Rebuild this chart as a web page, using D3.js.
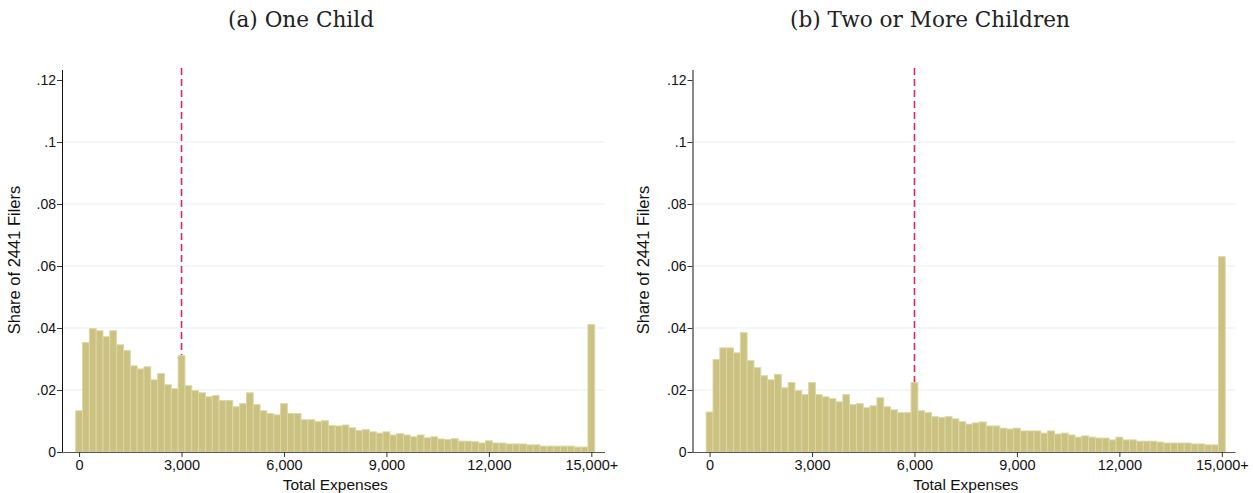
<!DOCTYPE html>
<html>
<head>
<meta charset="utf-8">
<script src="https://cdn.jsdelivr.net/npm/d3@7"></script>
<style>
  html, body { margin: 0; padding: 0; background: #fff; }
  svg { display: block; }
</style>
</head>
<body>
<svg id="chart" width="1254" height="493"></svg>
<script>
// Bin midpoints of total child-care expenses (last bin is 15,000 and above)
const expenseBins = d3.range(0, 15001, 200);

// Share of Form 2441 filers in each expense bin
const oneChild = [
  0.0133, 0.0353, 0.0398, 0.0391, 0.0372, 0.0391, 0.0346, 0.0327, 0.0278, 0.0268,
  0.0275, 0.0233, 0.0253, 0.0217, 0.0204, 0.0311, 0.0214, 0.0198, 0.0191, 0.0178,
  0.0182, 0.0166, 0.0166, 0.0146, 0.0156, 0.0191, 0.0153, 0.0133, 0.0124, 0.0120,
  0.0156, 0.0124, 0.0124, 0.0104, 0.0104, 0.0098, 0.0101, 0.0085, 0.0084, 0.0087,
  0.0078, 0.0069, 0.0072, 0.0065, 0.0061, 0.0065, 0.0055, 0.0059, 0.0055, 0.0049,
  0.0055, 0.0046, 0.0049, 0.0042, 0.0040, 0.0043, 0.0035, 0.0035, 0.0033, 0.0029,
  0.0036, 0.0029, 0.0029, 0.0026, 0.0026, 0.0026, 0.0023, 0.0023, 0.0019, 0.0019,
  0.0019, 0.0019, 0.0019, 0.0016, 0.0016, 0.0411
];
const twoPlusChildren = [
  0.0129, 0.0298, 0.0336, 0.0336, 0.0320, 0.0385, 0.0295, 0.0272, 0.0246, 0.0233,
  0.0250, 0.0207, 0.0224, 0.0198, 0.0185, 0.0224, 0.0185, 0.0178, 0.0172, 0.0162,
  0.0185, 0.0153, 0.0156, 0.0143, 0.0149, 0.0175, 0.0146, 0.0136, 0.0127, 0.0127,
  0.0224, 0.0133, 0.0127, 0.0114, 0.0111, 0.0114, 0.0107, 0.0098, 0.0090, 0.0094,
  0.0097, 0.0084, 0.0084, 0.0077, 0.0074, 0.0077, 0.0068, 0.0068, 0.0068, 0.0061,
  0.0068, 0.0058, 0.0061, 0.0055, 0.0048, 0.0052, 0.0048, 0.0045, 0.0045, 0.0039,
  0.0048, 0.0039, 0.0039, 0.0035, 0.0035, 0.0035, 0.0032, 0.0029, 0.0029, 0.0029,
  0.0029, 0.0026, 0.0026, 0.0023, 0.0023, 0.0630
];

// Credit expense limits marked by the dashed lines
const expenseLimits = [3000, 6000];
const panelTitles = ["(a) One Child", "(b) Two or More Children"];

const xTickValues = [0, 3000, 6000, 9000, 12000, 15000];
const xTickLabels = ["0", "3,000", "6,000", "9,000", "12,000", "15,000+"];
const yTickValues = [0, 0.02, 0.04, 0.06, 0.08, 0.10, 0.12];
const yTickLabels = ["0", ".02", ".04", ".06", ".08", ".1", ".12"];

const binWidth = 200;
const svg = d3.select("#chart");

const panels = [
  { title: panelTitles[0], values: oneChild, limit: expenseLimits[0], left: 62, right: 605, titleX: 301, ylabX: 14 },
  { title: panelTitles[1], values: twoPlusChildren, limit: expenseLimits[1], left: 692.5, right: 1235.5, titleX: 930, ylabX: 643 }
];

const plotTop = 68, plotBottom = 452;
const y = d3.scaleLinear().domain([0, 0.12387]).range([plotBottom, plotTop]);

const sansFont = "'Liberation Sans', Arial, sans-serif";
const serifFont = "'DejaVu Serif', 'Liberation Serif', serif";

panels.forEach(p => {
  const g = svg.append("g");
  const x = d3.scaleLinear().domain([-500, 15400]).range([p.left, p.right]);

  // panel title
  g.append("text")
    .attr("x", p.titleX).attr("y", 27)
    .attr("text-anchor", "middle")
    .style("font-family", serifFont)
    .style("font-size", "21.6px")
    .style("font-weight", "300")
    .attr("fill", "#222")
    .text(p.title);

  // horizontal grid
  g.append("g").selectAll("line")
    .data(yTickValues.filter(v => v > 0 && v < 0.11))
    .join("line")
    .attr("x1", p.left).attr("x2", p.right)
    .attr("y1", d => y(d)).attr("y2", d => y(d))
    .attr("stroke", "#e9eff1").attr("stroke-width", 1.2);

  // dashed expense limit (drawn under the bars)
  g.append("line")
    .attr("x1", x(p.limit)).attr("x2", x(p.limit))
    .attr("y1", plotTop).attr("y2", plotBottom)
    .attr("stroke", "#d92a5c").attr("stroke-width", 1.6)
    .attr("stroke-dasharray", "7,4");

  // bars
  const data = expenseBins.map((b, i) => ({ bin: b, share: p.values[i] }));
  g.append("g").selectAll("rect")
    .data(data)
    .join("rect")
    .attr("x", d => x(d.bin - binWidth / 2))
    .attr("width", d => x(d.bin + binWidth / 2) - x(d.bin - binWidth / 2))
    .attr("y", d => y(d.share))
    .attr("height", d => y(0) - y(d.share))
    .attr("fill", "#cbc281")
    .attr("stroke", "#dcd7a6")
    .attr("stroke-width", 0.9);

  // x axis
  const xAxis = d3.axisBottom(x)
    .tickValues(xTickValues)
    .tickFormat((d, i) => xTickLabels[i])
    .tickSize(5)
    .tickSizeOuter(0);
  const gx = g.append("g")
    .attr("transform", `translate(0,${plotBottom})`)
    .call(xAxis);
  gx.select(".domain").attr("stroke", "#555").attr("d", `M${p.left},0.5H${p.right}`);
  gx.selectAll(".tick line").attr("stroke", "#333");
  gx.selectAll(".tick text")
    .style("font-family", sansFont).style("font-size", "14.5px")
    .attr("fill", "#111").attr("dy", "0.88em").attr("y", 5);

  // y axis
  const yAxis = d3.axisLeft(y)
    .tickValues(yTickValues)
    .tickFormat((d, i) => yTickLabels[i])
    .tickSize(5)
    .tickSizeOuter(0);
  const gy = g.append("g")
    .attr("transform", `translate(${p.left},0)`)
    .call(yAxis);
  gy.select(".domain").attr("stroke", "#111").attr("d", `M0.5,${plotTop + 2}V${plotBottom}`);
  gy.selectAll(".tick line").attr("stroke", "#333");
  gy.selectAll(".tick text")
    .style("font-family", sansFont).style("font-size", "14px")
    .attr("fill", "#111").attr("x", -6);

  // axis titles
  g.append("text")
    .attr("x", (x(0) + x(15000)) / 2).attr("y", 490)
    .attr("text-anchor", "middle")
    .style("font-family", sansFont).style("font-size", "15.5px")
    .attr("fill", "#111")
    .text("Total Expenses");

  g.append("text")
    .attr("transform", `translate(${p.ylabX + 5.5},${(plotTop + plotBottom) / 2}) rotate(-90)`)
    .attr("text-anchor", "middle")
    .style("font-family", sansFont).style("font-size", "16.5px")
    .attr("fill", "#111")
    .text("Share of 2441 Filers");
});
</script>
</body>
</html>
